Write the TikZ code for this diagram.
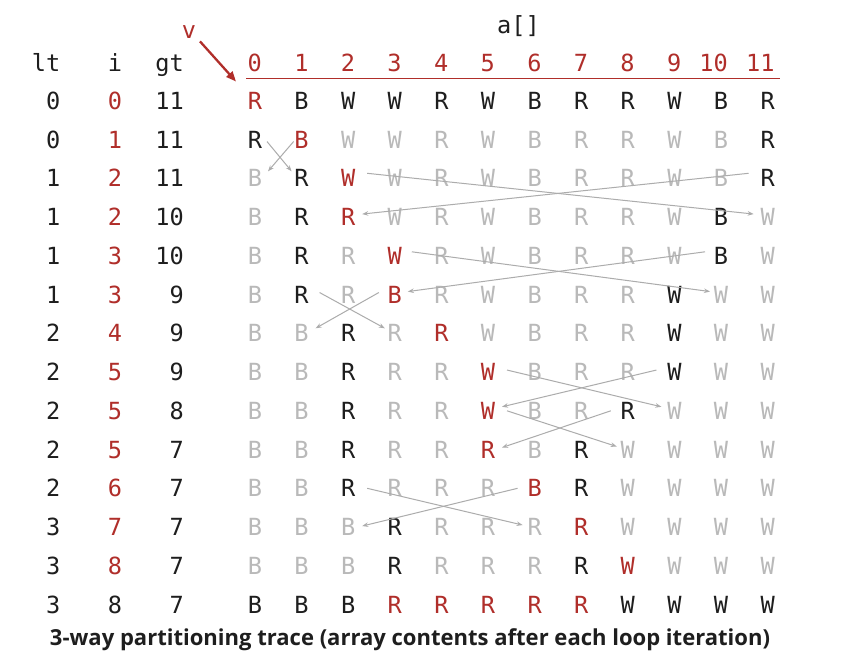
\documentclass[tikz,border=0pt]{standalone}
\usepackage{graphicx}
\usepackage{fontspec}
\newfontfamily\monof{DejaVu Sans Mono}
\newfontfamily\capf{Open Sans}
\usetikzlibrary{arrows.meta,calc}
\definecolor{cK}{RGB}{30,30,30}
\definecolor{cG}{RGB}{185,185,185}
\definecolor{cR}{RGB}{176,46,42}
\definecolor{cL}{RGB}{172,172,172}
\begin{document}
\begin{tikzpicture}[x=1pt,y=-1pt,
  cell/.style={inner sep=0pt, text height=17.2pt, text depth=0pt,
    font=\monof\fontsize{23.6}{28}\selectfont},
  swp/.style={draw=cL, line width=1pt, -{Stealth[length=6pt,width=4.5pt]}},
  vline/.style={draw=cR, line width=2.3pt, -{Triangle[length=10pt,width=8pt]}},
  rule/.style={draw=cR, line width=1.5pt}
 ]
\useasboundingbox[fill=white] (0,0) rectangle (857,663);
% headers
\node[cell, anchor=east, text=cK] (hlt) at (60.5,62.5) {lt};
\node[cell, text=cK] (hi) at (115,62.5) {i};
\node[cell, anchor=east, text=cK] (hgt) at (184,62.5) {gt};
\foreach \c in {0,...,11}
  \node[cell, anchor=east, text=cR] (h\c) at ({255+46.6*\c+7.1},62.5) {\c};
\node[cell, text=cK] (atitle) at (518.5,25) {a[]};
\node[cell, text=cR] (v) at (189,30.4) {v};
\coordinate (vtip) at (236,81.5);
\draw[vline] ($(v.center)+(11,11)$) -- (vtip);
\coordinate (rl) at (246,78.3);
\coordinate (rr) at (780,78.3);
\draw[rule] (rl) -- (rr);
% rows
\foreach \r/\lt/\i/\gt/\ic/\cells in {
 0/0/0/11/R/{R/R,B/K,W/K,W/K,R/K,W/K,B/K,R/K,R/K,W/K,B/K,R/K},
 1/0/1/11/R/{R/K,B/R,W/G,W/G,R/G,W/G,B/G,R/G,R/G,W/G,B/G,R/K},
 2/1/2/11/R/{B/G,R/K,W/R,W/G,R/G,W/G,B/G,R/G,R/G,W/G,B/G,R/K},
 3/1/2/10/R/{B/G,R/K,R/R,W/G,R/G,W/G,B/G,R/G,R/G,W/G,B/K,W/G},
 4/1/3/10/R/{B/G,R/K,R/G,W/R,R/G,W/G,B/G,R/G,R/G,W/G,B/K,W/G},
 5/1/3/9/R/{B/G,R/K,R/G,B/R,R/G,W/G,B/G,R/G,R/G,W/K,W/G,W/G},
 6/2/4/9/R/{B/G,B/G,R/K,R/G,R/R,W/G,B/G,R/G,R/G,W/K,W/G,W/G},
 7/2/5/9/R/{B/G,B/G,R/K,R/G,R/G,W/R,B/G,R/G,R/G,W/K,W/G,W/G},
 8/2/5/8/R/{B/G,B/G,R/K,R/G,R/G,W/R,B/G,R/G,R/K,W/G,W/G,W/G},
 9/2/5/7/R/{B/G,B/G,R/K,R/G,R/G,R/R,B/G,R/K,W/G,W/G,W/G,W/G},
 10/2/6/7/R/{B/G,B/G,R/K,R/G,R/G,R/G,B/R,R/K,W/G,W/G,W/G,W/G},
 11/3/7/7/R/{B/G,B/G,B/G,R/K,R/G,R/G,R/G,R/R,W/G,W/G,W/G,W/G},
 12/3/8/7/R/{B/G,B/G,B/G,R/K,R/G,R/G,R/G,R/K,W/R,W/G,W/G,W/G},
 13/3/8/7/K/{B/K,B/K,B/K,R/R,R/R,R/R,R/R,R/R,W/K,W/K,W/K,W/K}} {
  \pgfmathsetmacro{\yc}{100.8+38.75*\r}
  \node[cell, anchor=east, text=cK] (lt\r) at (60.5,\yc) {\lt};
  \node[cell, text=c\ic] (i\r) at (115,\yc) {\i};
  \node[cell, anchor=east, text=cK] (gt\r) at (184,\yc) {\gt};
  \foreach \l/\k [count=\j from 0] in \cells
    \node[cell, text=c\k] (n\r c\j) at ({255+46.6*\j},\yc) {\l};
}
% exchanges
\foreach \s/\a/\b/\t/\c/\d in {
  n1c0/12/2/n2c1/-10/-7, n1c1/-8/2/n2c0/13/-7,
  n2c2/19/-5/n3c11/-14/-3, n2c11/-19/-5/n3c2/14/-3,
  n4c3/17/-4/n5c10/-11/-3, n4c10/-16/-4/n5c3/13/-3,
  n5c1/18/-2/n6c3/-10/-5, n5c3/-16/-2/n6c1/14/-5,
  n7c5/19/-2/n8c9/-13/-4, n7c9/-18/-2/n8c5/14/-4,
  n8c5/19/0/n9c8/-11/-3, n8c8/-17/0/n9c5/14/-2,
  n10c2/19/0/n11c6/-12/-2, n10c6/-17/0/n11c2/14/-1}
  \draw[swp] ($(\s)+(\a,\b)$) -- ($(\t)+(\c,\d)$);
% caption
\node[anchor=base, inner sep=0pt, text=cK] (cap) at (410,645)
  {\resizebox{720pt}{!}{\capf\bfseries 3-way partitioning trace (array contents after each loop iteration)}};
\end{tikzpicture}
\end{document}
